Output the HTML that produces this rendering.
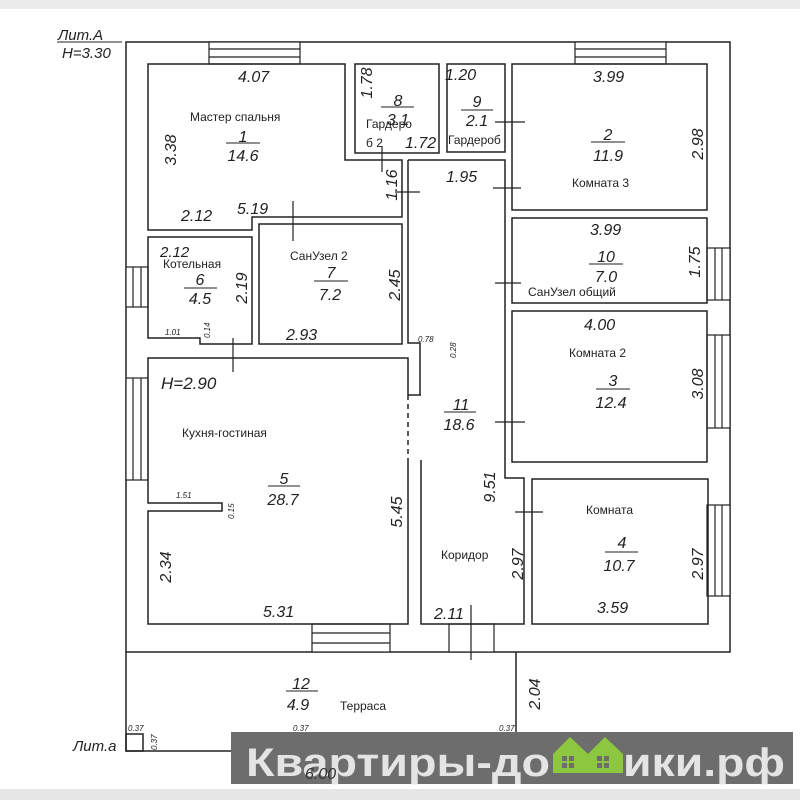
<!DOCTYPE html>
<html><head><meta charset="utf-8"><style>
body{margin:0;background:#fff}
svg text{font-family:"Liberation Sans",sans-serif;fill:#222}
.d{font-style:italic;font-size:16px}
.s{font-style:italic;font-size:8px}
.n{font-size:12px}
</style></head><body>
<svg width="800" height="800" viewBox="0 0 800 800" xmlns="http://www.w3.org/2000/svg">
<rect x="0" y="0" width="800" height="9" fill="#ececec"/>
<rect x="0" y="789" width="800" height="11" fill="#e6e6e6"/>
<g fill="none" stroke="#222" stroke-width="1.5">
<rect x="126" y="42" width="604" height="610"/>
<g stroke-width="1.2">
<rect x="209" y="42" width="91" height="22" fill="#fff"/><line x1="209" y1="49" x2="300" y2="49"/><line x1="209" y1="57" x2="300" y2="57"/>
<rect x="575" y="42" width="91" height="22" fill="#fff"/><line x1="575" y1="49" x2="666" y2="49"/><line x1="575" y1="57" x2="666" y2="57"/>
<rect x="126" y="267" width="22" height="40" fill="#fff"/><line x1="133" y1="267" x2="133" y2="307"/><line x1="141" y1="267" x2="141" y2="307"/>
<rect x="126" y="378" width="22" height="102" fill="#fff"/><line x1="133" y1="378" x2="133" y2="480"/><line x1="141" y1="378" x2="141" y2="480"/>
<rect x="312" y="624" width="78" height="28" fill="#fff"/><line x1="312" y1="633" x2="390" y2="633"/><line x1="312" y1="643" x2="390" y2="643"/>
<rect x="707" y="248" width="23" height="52" fill="#fff"/><line x1="715" y1="248" x2="715" y2="300"/><line x1="722" y1="248" x2="722" y2="300"/>
<rect x="707" y="335" width="23" height="93" fill="#fff"/><line x1="715" y1="335" x2="715" y2="428"/><line x1="722" y1="335" x2="722" y2="428"/>
<rect x="707" y="505" width="23" height="91" fill="#fff"/><line x1="715" y1="505" x2="715" y2="596"/><line x1="722" y1="505" x2="722" y2="596"/>
<rect x="449" y="624" width="45" height="28" fill="#fff"/>
</g>
<path d="M148 64 H345 V160 H402 V217 H252 V230 H148 Z"/>
<path d="M355 64 H439 V153 H355 Z"/>
<path d="M447 64 H505 V152 H447 Z"/>
<rect x="512" y="64" width="195" height="146"/>
<rect x="512" y="218" width="195" height="85"/>
<rect x="512" y="311" width="195" height="151"/>
<rect x="532" y="479" width="176" height="145"/>
<path d="M148 237 H252 V344 H200 V338 H148 Z"/>
<rect x="259" y="224" width="143" height="120"/>
<path d="M408 160 H505 V478 H524 V624 H421 V460"/>
<path d="M408 160 V343 H420 V358"/>
<path d="M420 358 V395"/>
<path d="M408 395 V358 H148 V503 H222 V511 H148 V624 H408 V460"/>
<line x1="408" y1="395" x2="408" y2="460" stroke-dasharray="5,4"/>
<line x1="421" y1="395" x2="408" y2="395"/>
<path d="M126 652 V751 H516 V652"/>
<rect x="126" y="734" width="17" height="17"/>
<rect x="291" y="734" width="17" height="17"/>
<rect x="499" y="734" width="17" height="17"/>
<g stroke-width="1.2">
<line x1="293" y1="201" x2="293" y2="241"/><line x1="233" y1="338" x2="233" y2="372"/>
<line x1="382" y1="146" x2="382" y2="172"/><line x1="395" y1="192" x2="420" y2="192"/>
<line x1="495" y1="122" x2="525" y2="122"/><line x1="493" y1="188" x2="521" y2="188"/>
<line x1="495" y1="283" x2="521" y2="283"/><line x1="495" y1="422" x2="525" y2="422"/>
<line x1="515" y1="512" x2="543" y2="512"/><line x1="471" y1="605" x2="471" y2="660"/>
</g>
</g>
<g class="d">
<text x="58" y="40" font-size="15">Лит.А</text><line x1="57" y1="42" x2="122" y2="42" stroke="#222"/>
<text x="62" y="58" font-size="15">H=3.30</text>
<text x="238" y="82">4.07</text><text x="181" y="221">2.12</text><text x="237" y="214">5.19</text>
<text x="160" y="257" font-size="15">2.12</text>
<text x="286" y="340">2.93</text><text x="593" y="82">3.99</text><text x="590" y="235">3.99</text>
<text x="584" y="330">4.00</text><text x="446" y="182">1.95</text>
<text x="445" y="80">1.20</text><text x="405" y="148">1.72</text>
<text x="263" y="617">5.31</text><text x="597" y="613">3.59</text><text x="434" y="619">2.11</text>
<text x="161" y="389" font-size="17">H=2.90</text>
<text x="73" y="751" font-size="15">Лит.а</text>
</g>
<g class="d">
<text transform="translate(176,150) rotate(-90)" text-anchor="middle">3.38</text>
<text transform="translate(372,83) rotate(-90)" text-anchor="middle">1.78</text>
<text transform="translate(397,185) rotate(-90)" text-anchor="middle">1.16</text>
<text transform="translate(247,288) rotate(-90)" text-anchor="middle">2.19</text>
<text transform="translate(400,285) rotate(-90)" text-anchor="middle">2.45</text>
<text transform="translate(703,144) rotate(-90)" text-anchor="middle">2.98</text>
<text transform="translate(700,262) rotate(-90)" text-anchor="middle">1.75</text>
<text transform="translate(703,384) rotate(-90)" text-anchor="middle">3.08</text>
<text transform="translate(495,487) rotate(-90)" text-anchor="middle">9.51</text>
<text transform="translate(402,512) rotate(-90)" text-anchor="middle">5.45</text>
<text transform="translate(171,567) rotate(-90)" text-anchor="middle">2.34</text>
<text transform="translate(523,564) rotate(-90)" text-anchor="middle">2.97</text>
<text transform="translate(703,564) rotate(-90)" text-anchor="middle">2.97</text>
<text transform="translate(540,694) rotate(-90)" text-anchor="middle">2.04</text>
</g>
<g class="s">
<text x="165" y="335">1.01</text><text x="176" y="498">1.51</text><text x="418" y="342">0.78</text>
<text x="128" y="731">0.37</text><text x="293" y="731">0.37</text><text x="499" y="731">0.37</text>
<text transform="translate(210,338) rotate(-90)">0.14</text>
<text transform="translate(234,519) rotate(-90)">0.15</text>
<text transform="translate(456,358) rotate(-90)">0.28</text>
<text transform="translate(157,750) rotate(-90)">0.37</text>
<text transform="translate(291,750) rotate(-90)">0.37</text>
<text transform="translate(497,750) rotate(-90)">0.37</text>
</g>
<g class="d" text-anchor="middle" stroke="none">
<text x="243" y="142">1</text><line x1="226" y1="143" x2="260" y2="143" stroke="#222"/><text x="243" y="161">14.6</text>
<text x="398" y="106">8</text><line x1="381" y1="107" x2="414" y2="107" stroke="#222"/><text x="398" y="125">3.1</text>
<text x="477" y="107">9</text><line x1="461" y1="110" x2="493" y2="110" stroke="#222"/><text x="477" y="126">2.1</text>
<text x="608" y="140">2</text><line x1="591" y1="142" x2="625" y2="142" stroke="#222"/><text x="608" y="161">11.9</text>
<text x="606" y="262">10</text><line x1="589" y1="264" x2="623" y2="264" stroke="#222"/><text x="606" y="282">7.0</text>
<text x="613" y="386">3</text><line x1="596" y1="389" x2="630" y2="389" stroke="#222"/><text x="611" y="408">12.4</text>
<text x="461" y="410">11</text><line x1="444" y1="412" x2="476" y2="412" stroke="#222"/><text x="459" y="430">18.6</text>
<text x="622" y="548">4</text><line x1="605" y1="552" x2="638" y2="552" stroke="#222"/><text x="619" y="571">10.7</text>
<text x="200" y="285">6</text><line x1="184" y1="288" x2="217" y2="288" stroke="#222"/><text x="200" y="304">4.5</text>
<text x="331" y="278">7</text><line x1="314" y1="281" x2="348" y2="281" stroke="#222"/><text x="330" y="300">7.2</text>
<text x="284" y="484">5</text><line x1="268" y1="486" x2="300" y2="486" stroke="#222"/><text x="283" y="505">28.7</text>
<text x="301" y="689">12</text><line x1="286" y1="691" x2="318" y2="691" stroke="#222"/><text x="298" y="710">4.9</text>
</g>
<g class="n">
<text x="190" y="121">Мастер спальня</text>
<text x="366" y="128">Гардеро</text><text x="366" y="147">б 2</text>
<text x="448" y="144">Гардероб</text>
<text x="572" y="187">Комната 3</text>
<text x="528" y="296">СанУзел общий</text>
<text x="569" y="357">Комната 2</text>
<text x="163" y="268">Котельная</text>
<text x="290" y="260">СанУзел 2</text>
<text x="182" y="437">Кухня-гостиная</text>
<text x="586" y="514">Комната</text>
<text x="441" y="559">Коридор</text>
<text x="340" y="710">Терраса</text>
</g>
<rect x="231" y="732" width="562" height="52" fill="#6d6d6d"/>
<text x="246" y="776" font-weight="bold" font-size="40" textLength="304" lengthAdjust="spacingAndGlyphs" style="fill:#e4e4e4">Квартиры-до</text>
<text x="623" y="776" font-weight="bold" font-size="40" textLength="162" lengthAdjust="spacingAndGlyphs" style="fill:#e4e4e4">ики.рф</text>
<g fill="#8dc63f">
<path d="M553 773 V754 L570 737 L588 754 V773 Z"/>
<path d="M588 773 V754 L605 737 L623 754 V773 Z"/>
</g>
<g fill="#6d6d6d">
<rect x="562" y="756" width="5" height="5"/><rect x="569" y="756" width="5" height="5"/><rect x="562" y="763" width="5" height="5"/><rect x="569" y="763" width="5" height="5"/>
<rect x="597" y="756" width="5" height="5"/><rect x="604" y="756" width="5" height="5"/><rect x="597" y="763" width="5" height="5"/><rect x="604" y="763" width="5" height="5"/>
</g>
<text x="305" y="779" class="d" style="fill:#333">6.00</text>
</svg>
</body></html>
